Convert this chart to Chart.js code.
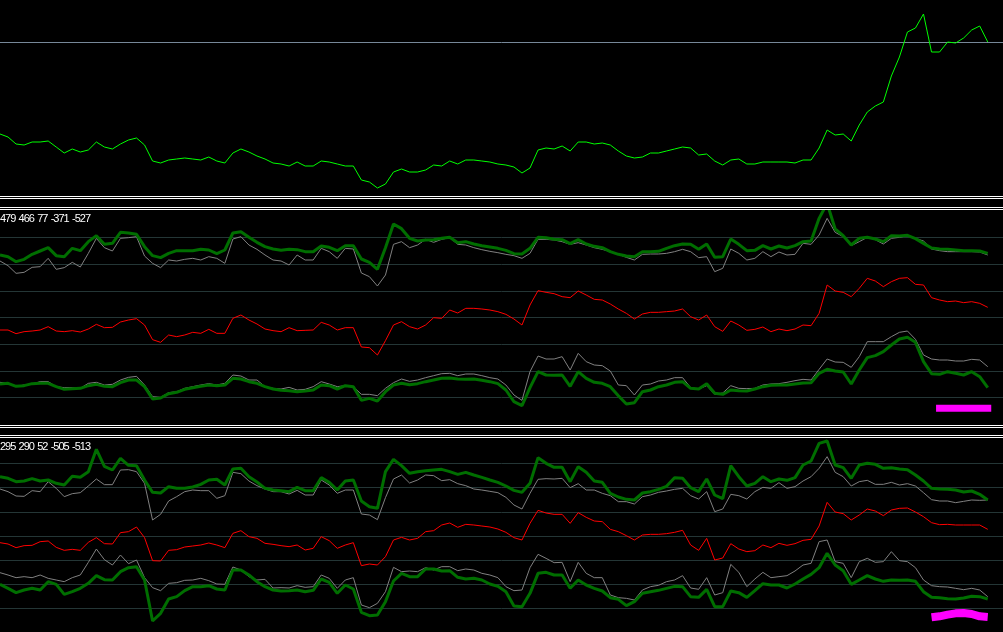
<!DOCTYPE html>
<html>
<head>
<meta charset="utf-8">
<script src="https://cdn.jsdelivr.net/npm/chart.js@4/dist/chart.umd.min.js"></script>
<style>
html, body { margin: 0; padding: 0; background: #000; }
body { width: 1003px; height: 632px; position: relative; overflow: hidden; }
.pane { position: absolute; left: 0; width: 1003px; }
.rule { position: absolute; left: 0; width: 1003px; height: 1px; background: #fff; }
.info { position: absolute; left: 0; color: #fff; font: 11px "Liberation Sans", Arial, sans-serif; letter-spacing: -1px; word-spacing: 1.2px; white-space: nowrap; }
</style>
</head>
<body>
<div class="pane" style="top:0;height:196px"><canvas id="priceChart"></canvas></div>
<div class="rule" style="top:196px"></div>
<div class="rule" style="top:198px"></div>
<div class="rule" style="top:207px"></div>
<div class="rule" style="top:209px"></div>
<div class="pane" style="top:210px;height:215px"><canvas id="oscChartA"></canvas></div>
<div class="rule" style="top:425px"></div>
<div class="rule" style="top:427px"></div>
<div class="rule" style="top:435px"></div>
<div class="rule" style="top:437px"></div>
<div class="pane" style="top:438px;height:194px"><canvas id="oscChartB"></canvas></div>
<div class="info" id="infoA" style="top:212px"></div>
<div class="info" id="infoB" style="top:440px"></div>
<script>
// bar indices (x axis)
const bars = Array.from({ length: 124 }, (_, i) => i);

// upper window: price line and its level
const priceLine = [62,59,52,51,54,54,55,49,43,47, 44,46,54,49,47,52,56,58,51,35,
  33,36,37,38,37,36,39,35,33,43, 47,44,40,37,33,32,30,34,30,30,
  35,34,32,30,30,16,14,8,12,24, 27,24,24,26,31,30,35,32,36,36,
  35,34,32,31,29,23,28,46,48,47, 50,45,54,54,52,53,51,45,40,38,
  39,43,43,45,47,49,48,41,42,35, 31,36,37,32,32,34,34,34,34,33,
  36,36,48,66,61,62,55,71,84,90, 94,120,139,164,168,182,144,144,154,153,
  158,166,170,154];
const priceLevels = [154];

// window A
const infoA = [479, 466, 77, -371, -527];
const levelsA = [-240, -160, -80, 0, 80, 160, 240];
const fastA = [188,183,168,175,190,200,210,186,183,208, 201,228,246,220,223,256,254,250,213,186,
  180,193,201,201,201,205,203,192,203,254, 258,241,226,213,206,202,205,204,198,198,
  215,211,201,216,216,176,166,145,210,281, 267,238,230,233,234,238,241,225,228,221,
  216,212,208,202,192,191,208,241,240,235, 234,222,234,221,214,210,198,190,185,183,
  198,198,199,208,216,221,220,205,221,181, 183,236,220,201,202,216,206,215,209,216,
  228,230,298,343,266,246,218,238,241,236, 228,246,245,247,237,223,209,206,205,203,
  201,201,200,193];
const slowA = [170,156,133,136,151,153,178,145,150,166, 152,193,238,210,200,238,240,243,185,163,
  150,173,170,175,178,173,183,178,163,236, 243,218,205,188,173,170,158,188,173,173,
  208,198,178,208,206,134,123,95,128,220, 228,210,218,235,226,235,240,220,218,210,
  204,199,195,190,186,178,193,235,235,233, 228,220,225,218,210,205,198,190,181,173,
  190,191,191,193,198,205,198,180,183,138, 148,206,193,173,178,198,183,197,188,190,
  223,220,248,298,256,243,216,228,241,234, 221,238,241,246,238,230,206,201,198,198,
  198,198,197,188];
const midA = [-37,-37,-48,-42,-40,-37,-27,-40,-42,-39, -43,-34,-20,-30,-29,-13,-7,-3,-22,-66,
  -74,-52,-57,-52,-44,-47,-35,-47,-47,-2, 8,-7,-19,-34,-39,-42,-30,-39,-38,-37,
  -14,-22,-37,-30,-30,-88,-90,-112,-69,-22, -12,-27,-34,-22,0,-2,23,14,28,28,
  26,23,18,10,-4,-22,38,81,76,72, 63,60,80,68,55,53,41,26,13,-4,
  11,16,16,18,20,26,3,-7,8,-27, -41,-10,-22,-38,-35,-28,-42,-34,-39,-34,
  -22,-24,13,98,80,76,63,88,118,110, 93,108,118,120,100,98,60,53,48,50,
  45,48,43,31];
const lowSlowA = [-194,-197,-206,-202,-199,-192,-192,-207,-210,-210, -212,-197,-194,-202,-200,-187,-179,-176,-202,-237,
  -239,-225,-222,-212,-207,-202,-198,-202,-197,-172, -175,-187,-187,-207,-212,-214,-209,-217,-215,-207,
  -192,-199,-207,-204,-207,-230,-230,-234,-212,-195, -184,-191,-187,-180,-174,-168,-167,-174,-169,-169,
  -174,-180,-184,-202,-232,-248,-162,-115,-124,-124, -117,-157,-107,-132,-142,-144,-160,-202,-204,-232,
  -202,-199,-190,-187,-180,-180,-210,-214,-204,-230, -226,-204,-212,-213,-212,-202,-199,-198,-194,-189,
  -185,-187,-155,-124,-133,-134,-149,-117,-72,-72, -72,-57,-44,-40,-65,-112,-124,-127,-127,-130,
  -130,-125,-127,-147];
const lowFastA = [-199,-197,-206,-204,-198,-197,-197,-207,-215,-213, -212,-204,-200,-206,-207,-195,-187,-187,-207,-244,
  -241,-228,-224,-215,-210,-206,-202,-204,-202,-182, -184,-192,-197,-207,-214,-218,-219,-222,-220,-217,
  -202,-204,-214,-204,-207,-248,-242,-250,-222,-202, -197,-201,-198,-192,-187,-182,-181,-184,-185,-184,
  -188,-192,-198,-217,-252,-264,-210,-162,-172,-173, -172,-206,-162,-182,-194,-197,-207,-234,-259,-255,
  -222,-217,-207,-202,-194,-192,-212,-214,-198,-227, -230,-217,-219,-220,-214,-207,-203,-202,-202,-199,
  -196,-195,-167,-155,-160,-163,-199,-157,-120,-114, -102,-82,-64,-59,-74,-132,-168,-170,-162,-167,
  -172,-162,-177,-210];
const markBarsA = [117, 118, 119, 120, 121, 122, 123];
const markValsA = [-272, -272, -272, -272, -272, -272, -272];

// window B
const infoB = [295, 290, 52, -505, -513];
const levelsB = [-216, -144, -72, 0, 72, 144, 216];
const fastB = [178,173,163,165,172,165,168,158,153,179, 176,193,260,209,198,233,212,211,168,131,
  129,148,143,143,147,155,168,170,153,201, 203,178,162,143,138,136,133,146,136,136,
  175,161,138,165,168,105,88,83,193,230, 211,188,193,196,198,200,193,185,191,183,
  176,168,161,150,137,131,158,235,218,206, 206,163,208,191,165,161,128,117,110,108,
  129,133,140,149,175,173,145,133,171,123, 112,211,178,150,158,178,163,171,167,175,
  213,225,278,285,213,205,173,213,218,215, 203,205,201,199,183,165,143,141,140,138,
  132,135,125,108];
const slowB = [141,133,120,119,136,133,163,143,118,127, 130,150,171,154,154,198,199,193,158,48,
  65,105,118,133,138,136,136,113,121,191, 187,165,151,141,133,133,126,137,123,123,
  168,153,128,138,138,66,63,49,115,171, 183,159,168,183,181,166,169,157,151,141,
  138,134,130,116,93,81,128,170,172,171, 173,145,157,138,138,128,121,103,103,96,
  118,123,131,135,140,143,121,111,133,73, 81,125,121,111,133,146,143,160,143,148,
  165,178,203,238,191,178,150,163,167,155, 155,161,153,157,150,130,109,105,105,100,
  104,108,107,108];
const midB = [-20,-24,-35,-29,-28,-17,-15,-34,-43,-40, -43,-19,-5,-23,-24,10,13,27,-5,-74,
  -75,-43,-41,-33,-30,-27,-21,-27,-35,8, 16,-2,-7,-22,-25,-29,-32,-27,-42,-37,
  -2,-14,-37,-27,-20,-89,-84,-87,-62,-12, -4,-12,-7,13,16,33,39,26,35,33,
  30,27,21,11,-5,-12,38,77,69,65, 65,38,70,56,45,43,20,13,1,-12,
  3,5,5,7,11,17,-27,-43,-7,-72, -66,-23,-39,-47,-44,-27,-35,-22,-28,-23,
  -13,-10,30,101,72,67,48,63,81,75, 61,78,83,84,72,58,40,34,35,33,
  33,33,33,20];
const lowSlowB = [-110,-117,-125,-122,-125,-117,-127,-132,-137,-125, -117,-79,-39,-71,-87,-57,-83,-72,-125,-155,
  -164,-142,-140,-133,-132,-127,-134,-144,-145,-93, -102,-122,-132,-130,-156,-155,-156,-149,-154,-152,
  -117,-127,-157,-132,-125,-207,-215,-202,-167,-94, -107,-105,-107,-95,-102,-92,-92,-104,-99,-102,
  -112,-117,-125,-152,-164,-162,-95,-55,-67,-80, -79,-137,-79,-112,-125,-125,-177,-185,-187,-192,
  -162,-152,-148,-137,-132,-119,-156,-160,-125,-177, -170,-85,-109,-152,-129,-109,-125,-122,-119,-105,
  -87,-82,-17,-12,-77,-82,-125,-77,-67,-79, -77,-47,-74,-77,-95,-132,-149,-152,-153,-157,
  -161,-157,-162,-182];
const lowFastB = [-145,-157,-170,-162,-157,-162,-137,-145,-175,-167, -157,-142,-119,-131,-132,-107,-95,-92,-132,-255,
  -232,-189,-182,-164,-152,-152,-149,-159,-162,-102, -102,-117,-137,-152,-162,-165,-164,-162,-167,-163,
  -129,-139,-172,-147,-159,-229,-239,-237,-197,-135, -112,-122,-122,-99,-99,-105,-104,-124,-129,-127,
  -132,-144,-151,-167,-210,-212,-172,-112,-109,-117, -117,-157,-132,-147,-157,-165,-185,-190,-209,-197,
  -172,-167,-163,-157,-151,-152,-182,-184,-160,-212, -212,-165,-170,-184,-164,-143,-147,-147,-156,-144,
  -129,-115,-95,-52,-87,-104,-145,-132,-119,-129, -136,-132,-133,-132,-136,-167,-184,-185,-188,-189,
  -186,-181,-182,-189];
const markBarsB = [116, 117, 118, 119, 120, 121, 122, 123];
const markValsB = [-244, -241, -236, -232, -231, -234, -241, -243];

document.getElementById('infoA').textContent = infoA.join(' ');
document.getElementById('infoB').textContent = infoB.join(' ');

function line(data, color, width, order, cap) {
  return {
    data: data,
    borderColor: color,
    borderWidth: width,
    pointRadius: 0,
    tension: 0,
    fill: false,
    order: order,
    borderJoinStyle: 'bevel',
    borderCapStyle: cap || 'butt'
  };
}

function marks(barList, valList) {
  return barList.map((b, i) => ({ x: b, y: valList[i] }));
}

function makePane(id, datasets, yMin, yMax, levels, levelColor) {
  return new Chart(document.getElementById(id), {
    type: 'line',
    data: { labels: bars, datasets: datasets },
    options: {
      responsive: true,
      maintainAspectRatio: false,
      animation: false,
      events: [],
      layout: { padding: 0 },
      plugins: { legend: { display: false }, tooltip: { enabled: false } },
      scales: {
        x: { type: 'linear', min: 0, max: 124.9, display: false },
        y: {
          min: yMin,
          max: yMax,
          afterBuildTicks: scale => { scale.ticks = levels.map(v => ({ value: v })); },
          ticks: { display: false },
          border: { display: false },
          grid: { color: levelColor, lineWidth: 1, drawTicks: false }
        }
      }
    }
  });
}

// upper price window
makePane('priceChart', [
  line(priceLine, '#00ff00', 1, 1)
], 0, 196, priceLevels, '#778899');

// window A
makePane('oscChartA', [
  line(marks(markBarsA, markValsA), '#ff00ff', 7, 0, 'square'),
  line(fastA, '#006e00', 3, 1),
  line(lowFastA, '#006e00', 3, 2),
  line(midA, '#ff0000', 1, 3),
  line(slowA, '#808080', 1, 4),
  line(lowSlowA, '#808080', 1, 5)
], -322, 323, levelsA, '#243636');

// window B
makePane('oscChartB', [
  line(marks(markBarsB, markValsB), '#ff00ff', 8, 0),
  line(fastB, '#006e00', 3, 1),
  line(lowFastB, '#006e00', 3, 2),
  line(midB, '#ff0000', 1, 3),
  line(slowB, '#808080', 1, 4),
  line(lowSlowB, '#808080', 1, 5)
], -288, 294, levelsB, '#243636');
</script>
</body>
</html>
